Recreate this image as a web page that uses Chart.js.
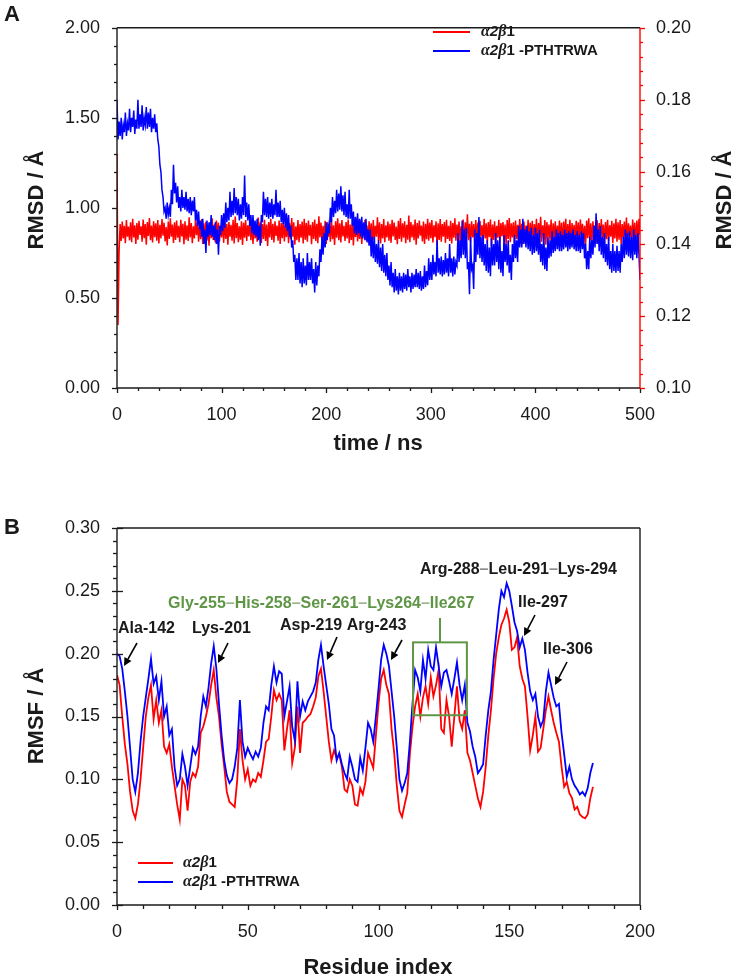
<!DOCTYPE html>
<html><head><meta charset="utf-8">
<script src="https://cdn.jsdelivr.net/npm/chart.js@4.4.0/dist/chart.umd.min.js"></script>
<style>
html,body{margin:0;padding:0;background:#fff;}
#wrap{position:relative;width:738px;height:978px;overflow:hidden;background:#fff;}
#pa{position:absolute;left:0;top:0;width:738px;height:470px;}
#pb{position:absolute;left:0;top:480px;width:738px;height:498px;}
</style></head><body>
<div id="wrap"><div id="pa"><canvas id="ca"></canvas></div><div id="pb"><canvas id="cb"></canvas></div></div>
<script>
// ---------- Panel A data: RMSD vs time (1 ns sampling) ----------
const timeNs = Array.from({length:501},(_,i)=>i);
// alpha2beta1-PTHTRWA (left axis, Å)
const rmsdComplex = [
1.60,1.38,1.48,1.40,1.50,1.38,1.46,1.42,1.53,1.40,1.47,1.43,1.55,1.42,1.50,1.45,1.54,1.41,1.49,1.44,
1.60,1.44,1.52,1.45,1.57,1.43,1.50,1.46,1.56,1.44,1.53,1.45,1.55,1.42,1.50,1.44,1.52,1.42,1.47,1.38,
1.34,1.24,1.20,1.10,1.06,0.98,1.00,0.94,1.03,0.96,1.00,0.95,1.10,1.02,1.24,1.08,1.14,1.03,1.12,1.00,
1.06,0.98,1.10,1.00,1.06,0.99,1.09,0.98,1.05,0.97,1.06,0.96,1.04,0.98,1.06,0.93,0.99,0.90,0.98,0.88,
0.93,0.84,0.94,0.80,0.88,0.75,0.93,0.84,0.92,0.85,0.96,0.84,0.90,0.82,0.92,0.80,0.88,0.74,0.90,0.85,
0.96,0.87,0.97,0.89,1.03,0.92,1.00,0.93,1.09,0.95,1.04,0.96,1.11,0.97,1.06,0.96,1.05,0.93,1.02,0.94,
1.06,0.96,1.18,0.95,1.03,0.93,1.02,0.90,0.96,0.86,0.96,0.85,0.93,0.84,0.94,0.82,0.90,0.79,0.96,0.92,
1.09,0.96,1.05,0.95,1.06,0.94,1.03,0.95,1.05,0.94,1.02,0.96,1.10,0.95,1.03,0.95,1.04,0.92,0.99,0.91,
1.00,0.89,0.97,0.87,0.96,0.84,0.90,0.78,0.82,0.70,0.74,0.60,0.72,0.60,0.75,0.58,0.70,0.56,0.72,0.58,
0.68,0.57,0.75,0.60,0.70,0.60,0.72,0.58,0.66,0.53,0.70,0.57,0.68,0.62,0.77,0.70,0.84,0.74,0.86,0.78,
0.92,0.82,0.90,0.86,1.00,0.92,1.06,0.95,1.04,0.97,1.10,0.98,1.08,0.99,1.12,0.98,1.07,0.96,1.09,0.95,
1.02,0.94,1.10,0.94,1.02,0.90,0.98,0.86,0.95,0.85,0.97,0.86,0.94,0.84,0.95,0.83,0.92,0.82,0.94,0.81,
0.88,0.79,0.88,0.73,0.84,0.72,0.84,0.70,0.80,0.69,0.82,0.67,0.78,0.65,0.80,0.64,0.74,0.62,0.75,0.60,
0.68,0.57,0.70,0.56,0.64,0.53,0.66,0.54,0.62,0.52,0.64,0.54,0.62,0.53,0.64,0.55,0.63,0.54,0.66,0.56,
0.62,0.53,0.64,0.55,0.63,0.56,0.66,0.56,0.64,0.55,0.65,0.54,0.62,0.55,0.68,0.56,0.65,0.57,0.72,0.60,
0.70,0.60,0.74,0.63,0.70,0.62,0.82,0.64,0.72,0.63,0.73,0.62,0.71,0.63,0.75,0.64,0.72,0.62,0.80,0.64,
0.72,0.62,0.73,0.63,0.70,0.68,0.86,0.70,0.82,0.72,0.93,0.74,0.88,0.72,0.89,0.66,0.70,0.52,0.84,0.66,
0.68,0.55,0.88,0.70,0.86,0.74,0.95,0.72,0.84,0.70,0.85,0.68,0.80,0.65,0.82,0.64,0.78,0.62,0.83,0.68,
0.80,0.68,0.86,0.70,0.82,0.66,0.84,0.64,0.76,0.62,0.85,0.70,0.80,0.68,0.82,0.64,0.74,0.60,0.80,0.70,
0.85,0.72,0.82,0.70,0.90,0.78,0.88,0.78,0.94,0.80,0.88,0.78,0.90,0.77,0.87,0.76,0.89,0.74,0.85,0.75,
0.89,0.76,0.86,0.74,0.88,0.70,0.80,0.68,0.86,0.66,0.78,0.65,0.84,0.72,0.82,0.73,0.87,0.75,0.84,0.76,
0.88,0.77,0.86,0.76,0.87,0.76,0.85,0.77,0.88,0.78,0.86,0.76,0.87,0.77,0.86,0.78,0.88,0.77,0.85,0.76,
0.87,0.76,0.85,0.75,0.87,0.77,0.86,0.72,0.80,0.66,0.76,0.66,0.84,0.72,0.82,0.74,0.90,0.78,0.97,0.80,
0.88,0.76,0.90,0.74,0.84,0.72,0.86,0.70,0.80,0.68,0.84,0.66,0.76,0.64,0.80,0.65,0.76,0.64,0.79,0.65,
0.76,0.64,0.80,0.70,0.84,0.72,0.88,0.74,0.86,0.73,0.87,0.72,0.84,0.71,0.88,0.74,0.85,0.72,0.86,0.74,
0.60];
// alpha2beta1 (right axis, Å)
const rmsdApo = [
0.1650,0.1175,0.1380,0.1455,0.1408,0.1462,0.1415,0.1450,0.1402,0.1466,0.1420,0.1448,0.1410,0.1460,0.1405,0.1470,0.1418,0.1452,0.1400,0.1458,
0.1412,0.1464,0.1425,0.1449,0.1406,0.1468,0.1416,0.1455,0.1398,0.1461,0.1422,0.1472,0.1410,0.1451,0.1404,0.1463,0.1419,0.1457,0.1409,0.1466,
0.1401,0.1453,0.1415,0.1469,0.1423,0.1459,0.1407,0.1447,0.1396,0.1462,0.1414,0.1471,0.1420,0.1454,0.1403,0.1460,0.1411,0.1465,0.1417,0.1450,
0.1405,0.1467,0.1421,0.1456,0.1399,0.1463,0.1412,0.1452,0.1408,0.1474,0.1418,0.1458,0.1402,0.1449,0.1415,0.1466,0.1424,0.1461,0.1406,0.1455,
0.1413,0.1469,0.1400,0.1457,0.1419,0.1462,0.1409,0.1448,0.1395,0.1460,0.1416,0.1471,0.1411,0.1454,0.1404,0.1465,0.1422,0.1459,0.1407,0.1451,
0.1418,0.1464,0.1403,0.1470,0.1414,0.1456,0.1398,0.1461,0.1420,0.1453,0.1409,0.1467,0.1401,0.1476,0.1416,0.1458,0.1405,0.1449,0.1412,0.1463,
0.1397,0.1459,0.1417,0.1466,0.1408,0.1452,0.1421,0.1468,0.1410,0.1457,0.1400,0.1462,0.1415,0.1450,0.1406,0.1473,0.1419,0.1460,0.1403,0.1455,
0.1414,0.1467,0.1408,0.1454,0.1394,0.1461,0.1418,0.1470,0.1411,0.1456,0.1404,0.1463,0.1422,0.1451,0.1409,0.1465,0.1400,0.1458,0.1416,0.1469,
0.1407,0.1452,0.1419,0.1464,0.1402,0.1457,0.1413,0.1472,0.1420,0.1460,0.1398,0.1449,0.1410,0.1466,0.1405,0.1455,0.1417,0.1462,0.1401,0.1470,
0.1412,0.1458,0.1406,0.1465,0.1423,0.1453,0.1399,0.1461,0.1414,0.1468,0.1408,0.1456,0.1402,0.1477,0.1418,0.1459,0.1409,0.1450,0.1415,0.1464,
0.1400,0.1460,0.1420,0.1455,0.1406,0.1469,0.1413,0.1452,0.1397,0.1463,0.1417,0.1471,0.1410,0.1457,0.1404,0.1466,0.1421,0.1450,0.1408,0.1461,
0.1415,0.1468,0.1402,0.1454,0.1411,0.1462,0.1396,0.1459,0.1419,0.1470,0.1407,0.1453,0.1414,0.1465,0.1400,0.1456,0.1422,0.1467,0.1410,0.1451,
0.1404,0.1463,0.1416,0.1457,0.1393,0.1466,0.1412,0.1450,0.1420,0.1474,0.1408,0.1460,0.1401,0.1455,0.1415,0.1469,0.1405,0.1452,0.1418,0.1462,
0.1409,0.1456,0.1403,0.1467,0.1421,0.1459,0.1411,0.1448,0.1399,0.1464,0.1414,0.1472,0.1406,0.1457,0.1417,0.1463,0.1402,0.1453,0.1412,0.1479,
0.1405,0.1461,0.1418,0.1454,0.1410,0.1468,0.1398,0.1458,0.1415,0.1465,0.1423,0.1451,0.1407,0.1462,0.1400,0.1456,0.1413,0.1470,0.1409,0.1459,
0.1416,0.1466,0.1404,0.1452,0.1419,0.1463,0.1395,0.1457,0.1411,0.1469,0.1406,0.1455,0.1420,0.1461,0.1403,0.1467,0.1414,0.1450,0.1408,0.1464,
0.1401,0.1458,0.1417,0.1471,0.1409,0.1454,0.1422,0.1462,0.1405,0.1449,0.1413,0.1468,0.1399,0.1460,0.1416,0.1482,0.1410,0.1456,0.1404,0.1463,
0.1418,0.1455,0.1402,0.1466,0.1412,0.1459,0.1396,0.1464,0.1420,0.1452,0.1407,0.1470,0.1415,0.1457,0.1401,0.1461,0.1419,0.1468,0.1395,0.1454,
0.1411,0.1463,0.1406,0.1450,0.1417,0.1467,0.1403,0.1458,0.1421,0.1461,0.1409,0.1454,0.1397,0.1466,0.1414,0.1472,0.1405,0.1457,0.1418,0.1460,
0.1402,0.1465,0.1413,0.1453,0.1408,0.1469,0.1420,0.1456,0.1400,0.1462,0.1416,0.1451,0.1410,0.1467,0.1404,0.1459,0.1422,0.1464,0.1407,0.1455,
0.1415,0.1470,0.1403,0.1458,0.1418,0.1475,0.1406,0.1452,0.1412,0.1466,0.1398,0.1461,0.1419,0.1454,0.1409,0.1468,0.1401,0.1457,0.1414,0.1463,
0.1406,0.1451,0.1420,0.1465,0.1410,0.1459,0.1396,0.1462,0.1417,0.1470,0.1404,0.1455,0.1413,0.1467,0.1400,0.1458,0.1419,0.1453,0.1408,0.1464,
0.1414,0.1460,0.1402,0.1468,0.1421,0.1456,0.1407,0.1450,0.1398,0.1465,0.1416,0.1471,0.1410,0.1457,0.1404,0.1463,0.1418,0.1452,0.1401,0.1466,
0.1411,0.1458,0.1405,0.1469,0.1419,0.1454,0.1396,0.1461,0.1413,0.1467,0.1408,0.1452,0.1420,0.1464,0.1402,0.1457,0.1415,0.1470,0.1406,0.1460,
0.1412,0.1466,0.1399,0.1455,0.1417,0.1462,0.1404,0.1473,0.1410,0.1457,0.1421,0.1451,0.1403,0.1468,0.1414,0.1459,0.1400,0.1465,0.1409,0.1470,
0.1425];
const xTicksA = [0,100,200,300,400,500];
const yTicksA = [0,0.5,1.0,1.5,2.0];
const y2TicksA = [0.10,0.12,0.14,0.16,0.18,0.20];

// ---------- Panel B data: RMSF vs residue index ----------
const residueIndex = Array.from({length:183},(_,i)=>i);
const rmsfComplex = [
0.200,0.198,0.188,0.170,0.150,0.125,0.100,0.090,0.105,0.130,
0.150,0.165,0.180,0.196,0.176,0.182,0.163,0.178,0.150,0.158,
0.135,0.140,0.110,0.095,0.100,0.120,0.110,0.095,0.110,0.125,
0.120,0.126,0.150,0.166,0.158,0.173,0.192,0.206,0.188,0.160,
0.135,0.115,0.103,0.097,0.100,0.110,0.125,0.163,0.130,0.118,
0.125,0.120,0.116,0.122,0.118,0.125,0.145,0.158,0.155,0.175,
0.190,0.177,0.186,0.184,0.150,0.162,0.174,0.142,0.131,0.178,
0.150,0.162,0.155,0.162,0.166,0.170,0.177,0.195,0.207,0.190,
0.175,0.160,0.140,0.135,0.115,0.121,0.112,0.105,0.100,0.118,
0.110,0.100,0.098,0.117,0.107,0.125,0.145,0.140,0.130,0.150,
0.172,0.195,0.207,0.200,0.190,0.170,0.150,0.125,0.100,0.091,
0.097,0.105,0.130,0.160,0.187,0.181,0.170,0.195,0.180,0.203,
0.190,0.187,0.205,0.190,0.174,0.185,0.187,0.178,0.168,0.180,
0.193,0.175,0.163,0.175,0.145,0.138,0.126,0.118,0.105,0.108,
0.112,0.135,0.155,0.170,0.195,0.215,0.235,0.250,0.245,0.256,
0.250,0.238,0.225,0.218,0.205,0.212,0.203,0.185,0.170,0.163,
0.168,0.150,0.142,0.147,0.170,0.185,0.175,0.165,0.158,0.160,
0.137,0.120,0.102,0.110,0.100,0.095,0.092,0.088,0.090,0.087,
0.093,0.105,0.113];
const rmsfApo = [
0.183,0.175,0.150,0.128,0.112,0.090,0.075,0.069,0.080,0.100,
0.125,0.150,0.165,0.175,0.148,0.163,0.145,0.155,0.126,0.121,
0.128,0.110,0.095,0.080,0.068,0.100,0.095,0.075,0.098,0.105,
0.102,0.110,0.137,0.142,0.150,0.160,0.175,0.187,0.165,0.150,
0.128,0.110,0.090,0.082,0.080,0.078,0.100,0.140,0.115,0.100,
0.108,0.095,0.100,0.098,0.105,0.102,0.115,0.130,0.132,0.150,
0.171,0.163,0.168,0.163,0.123,0.140,0.155,0.113,0.125,0.158,
0.121,0.145,0.147,0.150,0.152,0.158,0.165,0.182,0.188,0.170,
0.150,0.130,0.115,0.123,0.117,0.120,0.110,0.092,0.090,0.100,
0.095,0.080,0.079,0.093,0.088,0.098,0.121,0.115,0.109,0.135,
0.160,0.180,0.187,0.175,0.168,0.140,0.121,0.095,0.075,0.070,
0.080,0.089,0.120,0.142,0.158,0.168,0.150,0.165,0.174,0.160,
0.181,0.166,0.175,0.187,0.140,0.137,0.163,0.150,0.126,0.150,
0.174,0.147,0.140,0.155,0.121,0.115,0.105,0.095,0.085,0.078,
0.090,0.110,0.135,0.155,0.180,0.200,0.213,0.223,0.228,0.235,
0.225,0.203,0.205,0.213,0.190,0.180,0.174,0.150,0.123,0.135,
0.150,0.122,0.125,0.140,0.155,0.166,0.155,0.145,0.137,0.130,
0.110,0.094,0.098,0.089,0.085,0.076,0.078,0.072,0.070,0.069,
0.072,0.085,0.094];
const xTicksB = [0,50,100,150,200];
const yTicksB = [0,0.05,0.10,0.15,0.20,0.25,0.30];
const boxResidues = [113.2, 133.8];
const boxRmsf = [0.151, 0.209];

// ---------- drawing helpers ----------
const FONT = '"Liberation Sans", Arial, sans-serif';
const INK = '#1a1a1a';
const GREEN = '#5f9646';

function tickMarks(ctx, scale, o){
  ctx.save(); ctx.strokeStyle=o.color||INK; ctx.lineWidth=1.3;
  const n = Math.round((o.to-o.from)/o.step);
  for(let k=0;k<=n;k++){
    const v=o.from+k*o.step;
    const p=Math.round(scale.getPixelForValue(v))+0.5;
    const isMajor = k%o.every===0;
    const len = isMajor?o.major:o.minor;
    const back = (isMajor&&o.cross)?o.cross:0;
    ctx.beginPath();
    if(o.axis==='y'){ctx.moveTo(o.at-o.dir*back,p);ctx.lineTo(o.at+o.dir*len,p);}
    else{ctx.moveTo(p,o.at-o.dir*back);ctx.lineTo(p,o.at+o.dir*len);}
    ctx.stroke();
  }
  ctx.restore();
}
function line(ctx,x1,y1,x2,y2,color,w){
  ctx.save();ctx.strokeStyle=color;ctx.lineWidth=w;ctx.beginPath();ctx.moveTo(x1,y1);ctx.lineTo(x2,y2);ctx.stroke();ctx.restore();
}
function vText(ctx,txt,x,y,font){
  ctx.save();ctx.translate(x,y);ctx.rotate(-Math.PI/2);ctx.font=font;ctx.fillStyle=INK;
  ctx.textAlign='center';ctx.textBaseline='middle';ctx.fillText(txt,0,0);ctx.restore();
}
function hText(ctx,txt,x,y,font,color,align){
  ctx.save();ctx.font=font;ctx.fillStyle=color||INK;ctx.textAlign=align||'left';ctx.textBaseline='middle';
  ctx.fillText(txt,x,y);ctx.restore();
}
function segText(ctx,x,y,segs){
  ctx.save();ctx.textBaseline='middle';ctx.textAlign='left';
  let cx=x;
  for(const s of segs){ctx.font=s.font;ctx.fillStyle=s.color||INK;ctx.fillText(s.t,cx,y);cx+=ctx.measureText(s.t).width;}
  ctx.restore();
}
function dashedLabel(ctx,x,y,txt,font,color,dashColor){
  const parts=txt.split('–');const segs=[];
  parts.forEach((p,i)=>{segs.push({t:p,font,color});if(i<parts.length-1)segs.push({t:'–',font,color:dashColor});});
  segText(ctx,x,y,segs);
}
function arrow(ctx,x1,y1,x2,y2){
  ctx.save();ctx.strokeStyle='#000';ctx.fillStyle='#000';ctx.lineWidth=1.6;
  const a=Math.atan2(y2-y1,x2-x1);const L=8,W=4;
  const bx=x2-L*Math.cos(a),by=y2-L*Math.sin(a);
  ctx.beginPath();ctx.moveTo(x1,y1);ctx.lineTo(bx,by);ctx.stroke();
  ctx.beginPath();ctx.moveTo(x2,y2);ctx.lineTo(bx+W*Math.sin(a),by-W*Math.cos(a));ctx.lineTo(bx-W*Math.sin(a),by+W*Math.cos(a));ctx.closePath();ctx.fill();
  ctx.restore();
}
function legendLabel(ctx,x,y,withSuffix){
  const segs=[
    {t:'α',font:'italic bold 16px "Liberation Serif", serif'},
    {t:'2',font:'italic bold 15px '+FONT},
    {t:'β',font:'italic bold 16px "Liberation Serif", serif'},
    {t:'1',font:'bold 15px '+FONT}];
  if(withSuffix)segs.push({t:' -PTHTRWA',font:'bold 15px '+FONT});
  segText(ctx,x,y,segs);
}

const tickFont = {family:'"Liberation Sans", Arial, sans-serif', size:18};

// ---------- Panel A ----------
const panelA = {id:'panelA', afterDraw(chart){
  const ctx=chart.ctx, a=chart.chartArea, s=chart.scales;
  line(ctx,a.left,a.top,a.right,a.top,INK,1.4);
  line(ctx,a.left,a.top,a.left,a.bottom,INK,1.4);
  line(ctx,a.left,a.bottom,a.right,a.bottom,INK,1.4);
  line(ctx,a.right,a.top,a.right,a.bottom+1,'#ff0000',1.4);
  tickMarks(ctx,s.y,{axis:'y',at:a.left,from:0,to:2,step:0.1,every:5,dir:-1,major:5,minor:3});
  tickMarks(ctx,s.x,{axis:'x',at:a.bottom,from:0,to:500,step:20,every:5,dir:1,major:5,minor:3});
  tickMarks(ctx,s.y2,{axis:'y',at:a.right,from:0.1,to:0.2,step:0.004,every:5,dir:1,major:5,minor:3,color:'#ff0000'});
  line(ctx,433,32,470,32,'#ff0000',2);
  line(ctx,433,51,470,51,'#0000ff',2);
  legendLabel(ctx,481,32,false);
  legendLabel(ctx,481,51,true);
  vText(ctx,'RMSD / Å',37,200,'bold 22px '+FONT);
  vText(ctx,'RMSD / Å',725,200,'bold 22px '+FONT);
  hText(ctx,'time / ns',378,444,'bold 22px '+FONT,INK,'center');
  hText(ctx,'A',12,15,'bold 22px '+FONT,INK,'center');
}};

new Chart(document.getElementById('ca'),{
  type:'line',
  data:{datasets:[
    {label:'α2β1 -PTHTRWA',data:timeNs.map((t,i)=>({x:t,y:rmsdComplex[i]})),borderColor:'#0000ff',borderWidth:1.5,pointRadius:0,yAxisID:'y'},
    {label:'α2β1',data:timeNs.map((t,i)=>({x:t,y:rmsdApo[i]})),borderColor:'#ff0000',borderWidth:1.5,pointRadius:0,yAxisID:'y2'}
  ]},
  options:{animation:false,responsive:true,maintainAspectRatio:false,devicePixelRatio:1,
    layout:{padding:{top:12,left:0,right:0,bottom:0}},
    plugins:{legend:{display:false},tooltip:{enabled:false}},
    scales:{
      x:{type:'linear',min:0,max:500,grid:{display:false,drawTicks:false},border:{display:false},
        afterBuildTicks:s=>{s.ticks=xTicksA.map(v=>({value:v}));},
        ticks:{padding:16,color:INK,font:tickFont,maxRotation:0,autoSkip:false,callback:v=>String(v)},
        afterFit:s=>{s.height=82;}},
      y:{type:'linear',position:'left',min:0,max:2,grid:{display:false,drawTicks:false},border:{display:false},
        afterBuildTicks:s=>{s.ticks=yTicksA.map(v=>({value:v}));},
        ticks:{padding:17,color:INK,font:tickFont,autoSkip:false,callback:v=>Number(v).toFixed(2)},
        afterFit:s=>{s.width=117;}},
      y2:{type:'linear',position:'right',min:0.1,max:0.2,grid:{display:false,drawTicks:false},border:{display:false},
        afterBuildTicks:s=>{s.ticks=y2TicksA.map(v=>({value:v}));},
        ticks:{padding:16,color:INK,font:tickFont,autoSkip:false,callback:v=>Number(v).toFixed(2)},
        afterFit:s=>{s.width=98;}}
    }},
  plugins:[panelA]
});

// ---------- Panel B ----------
const OFF=480;
const panelB = {id:'panelB', afterDraw(chart){
  const ctx=chart.ctx, a=chart.chartArea, s=chart.scales;
  line(ctx,a.left,a.top,a.right,a.top,INK,1.4);
  line(ctx,a.right,a.top,a.right,a.bottom,INK,1.4);
  line(ctx,a.left,a.top,a.left,a.bottom,INK,1.4);
  line(ctx,a.left,a.bottom,a.right,a.bottom,INK,1.4);
  tickMarks(ctx,s.y,{axis:'y',at:a.left,from:0,to:0.3,step:0.01,every:5,dir:-1,major:5,minor:4,cross:6});
  tickMarks(ctx,s.x,{axis:'x',at:a.bottom,from:0,to:200,step:10,every:5,dir:1,major:5,minor:4});
  const bx1=s.x.getPixelForValue(boxResidues[0]),bx2=s.x.getPixelForValue(boxResidues[1]);
  const by1=s.y.getPixelForValue(boxRmsf[1]),by2=s.y.getPixelForValue(boxRmsf[0]);
  ctx.save();ctx.strokeStyle=GREEN;ctx.lineWidth=2;ctx.strokeRect(bx1,by1,bx2-bx1,by2-by1);ctx.restore();
  line(ctx,440,618-OFF,440,by1,GREEN,2);
  const bf='bold 16px '+FONT;
  dashedLabel(ctx,168,604-OFF,'Gly-255–His-258–Ser-261–Lys264–Ile267',bf,GREEN,'#9cb58e');
  hText(ctx,'Ala-142',118,629-OFF,bf);
  hText(ctx,'Lys-201',192,629-OFF,bf);
  hText(ctx,'Asp-219 Arg-243',280,626-OFF,bf);
  dashedLabel(ctx,420,570-OFF,'Arg-288–Leu-291–Lys-294',bf,INK,'#8c8c8c');
  hText(ctx,'Ile-297',518,603-OFF,bf);
  hText(ctx,'Ile-306',543,650-OFF,bf);
  arrow(ctx,137,643-OFF,124,666-OFF);
  arrow(ctx,228,643-OFF,218,663-OFF);
  arrow(ctx,337,637-OFF,327,660-OFF);
  arrow(ctx,402,640-OFF,391,660-OFF);
  arrow(ctx,535,615-OFF,524,636-OFF);
  arrow(ctx,567,662-OFF,555,685-OFF);
  line(ctx,138,863-OFF,173,863-OFF,'#ff0000',2);
  line(ctx,138,882-OFF,173,882-OFF,'#0000ff',2);
  legendLabel(ctx,183,863-OFF,false);
  legendLabel(ctx,183,882-OFF,true);
  vText(ctx,'RMSF / Å',37,716-OFF,'bold 22px '+FONT);
  hText(ctx,'Residue index',378,968-OFF,'bold 22px '+FONT,INK,'center');
  hText(ctx,'B',12,528-OFF,'bold 22px '+FONT,INK,'center');
}};

new Chart(document.getElementById('cb'),{
  type:'line',
  data:{datasets:[
    {label:'α2β1 -PTHTRWA',data:residueIndex.map((r,i)=>({x:r,y:rmsfComplex[i]})),borderColor:'#0000ff',borderWidth:1.8,pointRadius:0},
    {label:'α2β1',data:residueIndex.map((r,i)=>({x:r,y:rmsfApo[i]})),borderColor:'#ff0000',borderWidth:1.8,pointRadius:0}
  ]},
  options:{animation:false,responsive:true,maintainAspectRatio:false,devicePixelRatio:1,
    layout:{padding:{top:48,left:0,right:98,bottom:0}},
    plugins:{legend:{display:false},tooltip:{enabled:false}},
    scales:{
      x:{type:'linear',min:0,max:200,grid:{display:false,drawTicks:false},border:{display:false},
        afterBuildTicks:s=>{s.ticks=xTicksB.map(v=>({value:v}));},
        ticks:{padding:16,color:INK,font:tickFont,maxRotation:0,autoSkip:false,callback:v=>String(v)},
        afterFit:s=>{s.height=73;}},
      y:{type:'linear',position:'left',min:0,max:0.3,grid:{display:false,drawTicks:false},border:{display:false},
        afterBuildTicks:s=>{s.ticks=yTicksB.map(v=>({value:v}));},
        ticks:{padding:17,color:INK,font:tickFont,autoSkip:false,callback:v=>Number(v).toFixed(2)},
        afterFit:s=>{s.width=117;}}
    }},
  plugins:[panelB]
});
</script>
</body></html>
